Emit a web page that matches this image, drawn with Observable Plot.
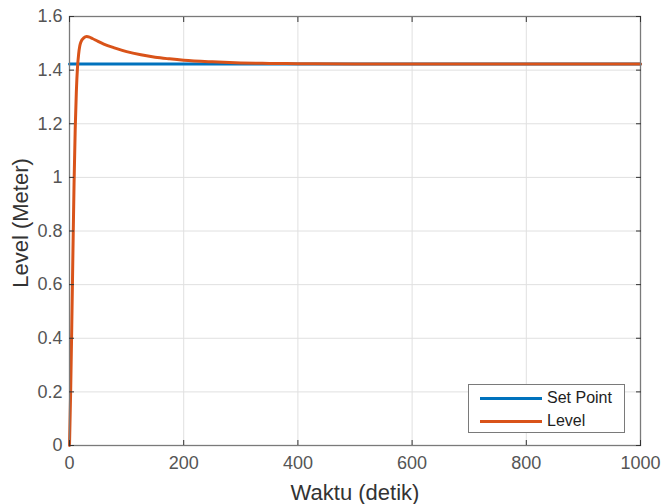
<!DOCTYPE html>
<html>
<head>
<meta charset="utf-8">
<script src="https://cdn.jsdelivr.net/npm/d3@7"></script>
<script src="https://cdn.jsdelivr.net/npm/@observablehq/plot@0.6"></script>
<style>
  html, body { margin: 0; padding: 0; background: #fff; }
  #wrap { position: relative; width: 661px; height: 504px; font-family: "Liberation Sans", Arial, sans-serif; }
  #legend { position: absolute; left: 468px; top: 384px; width: 155px; height: 47px; background: #fff; border: 1px solid #7a7a7a; }
  .item { position: absolute; left: 0; height: 20px; width: 155px; }
  .swatch { position: absolute; left: 11px; width: 62px; height: 3px; }
  .lab { position: absolute; left: 78px; font-size: 16px; color: #1e1e1e; line-height: 20px; top: -10px; white-space: nowrap; }
</style>
</head>
<body>
<div id="wrap"></div>
<script>
// ---- data ----
const seriesNames = ["Set Point", "Level"];
const seriesColors = ["#0072BD", "#D95319"];

const setTime = [0, 1000];
const setLevel = [1.423, 1.423];

const levelTime = [0, 2, 4, 6, 8, 10, 12, 14, 16, 18, 20, 25, 30, 35, 40, 50, 60, 80, 100, 125, 150, 175, 200, 250, 300, 350, 400, 500, 600, 700, 800, 900, 1000];
const levelValue = [0, 0.2, 0.45, 0.72, 0.98, 1.18, 1.32, 1.41, 1.46, 1.49, 1.505, 1.52, 1.525, 1.523, 1.518, 1.507, 1.497, 1.482, 1.469, 1.457, 1.448, 1.442, 1.437, 1.431, 1.427, 1.425, 1.424, 1.423, 1.423, 1.423, 1.423, 1.423, 1.423];

const xTicks = [0, 200, 400, 600, 800, 1000];
const yTicks = [0, 0.2, 0.4, 0.6, 0.8, 1, 1.2, 1.4, 1.6];
const xLabel = "Waktu (detik)";
const yLabel = "Level (Meter)";

// ---- build ----
const setData = setTime.map((t, i) => ({t, v: setLevel[i]}));
const levelData = levelTime.map((t, i) => ({t, v: levelValue[i]}));

const font = "Liberation Sans, Arial, sans-serif";
const tickColor = "#555";

const chart = Plot.plot({
  width: 661,
  height: 504,
  marginLeft: 69,
  marginRight: 21,
  marginTop: 16,
  marginBottom: 59,
  style: {fontFamily: font, fontSize: "18px", background: "#fff", overflow: "visible"},
  x: {domain: [0, 1000]},
  y: {domain: [0, 1.6]},
  marks: [
    Plot.gridX(xTicks, {stroke: "#e0e0e0", strokeOpacity: 1}),
    Plot.gridY(yTicks, {stroke: "#e0e0e0", strokeOpacity: 1}),
    Plot.line(setData, {x: "t", y: "v", stroke: seriesColors[0], strokeWidth: 3}),
    Plot.line(levelData, {x: "t", y: "v", stroke: seriesColors[1], strokeWidth: 3, curve: "monotone-x"}),
    Plot.frame({stroke: "#7a7a7a", strokeWidth: 1.3}),
    // inward ticks
    Plot.axisX(xTicks, {anchor: "bottom", tickSize: -5, tickFormat: () => "", stroke: "#333", label: null}),
    Plot.axisX(xTicks, {anchor: "top", tickSize: -5, tickFormat: () => "", stroke: "#333", label: null}),
    Plot.axisY(yTicks, {anchor: "left", tickSize: -5, tickFormat: () => "", stroke: "#333", label: null}),
    Plot.axisY(yTicks, {anchor: "right", tickSize: -5, tickFormat: () => "", stroke: "#333", label: null}),
    // tick labels
    Plot.axisX(xTicks, {anchor: "bottom", tickSize: 0, tickPadding: 11, tickFormat: d => String(d), fill: tickColor, fontSize: 18, label: null}),
    Plot.axisY(yTicks, {anchor: "left", tickSize: 0, tickPadding: 7, tickFormat: d => String(d), fill: tickColor, fontSize: 18, label: null}),
    // axis titles
    Plot.text([xLabel], {frameAnchor: "bottom", dy: 47, text: d => d, fill: "#333", fontSize: 22, textAnchor: "middle", lineAnchor: "middle"}),
    Plot.text([yLabel], {frameAnchor: "left", dx: -49, dy: -8, rotate: -90, text: d => d, fill: "#333", fontSize: 22, textAnchor: "middle", lineAnchor: "middle"})
  ]
});

const wrap = document.getElementById("wrap");
wrap.appendChild(chart);

const legend = document.createElement("div");
legend.id = "legend";
seriesNames.forEach((name, i) => {
  const item = document.createElement("div");
  item.className = "item";
  item.style.top = (i === 0 ? 13 : 36) + "px";
  const sw = document.createElement("div");
  sw.className = "swatch";
  sw.style.background = seriesColors[i];
  sw.style.top = "-1.5px";
  const lab = document.createElement("div");
  lab.className = "lab";
  lab.textContent = name;
  item.appendChild(sw);
  item.appendChild(lab);
  legend.appendChild(item);
});
wrap.appendChild(legend);
</script>
</body>
</html>
